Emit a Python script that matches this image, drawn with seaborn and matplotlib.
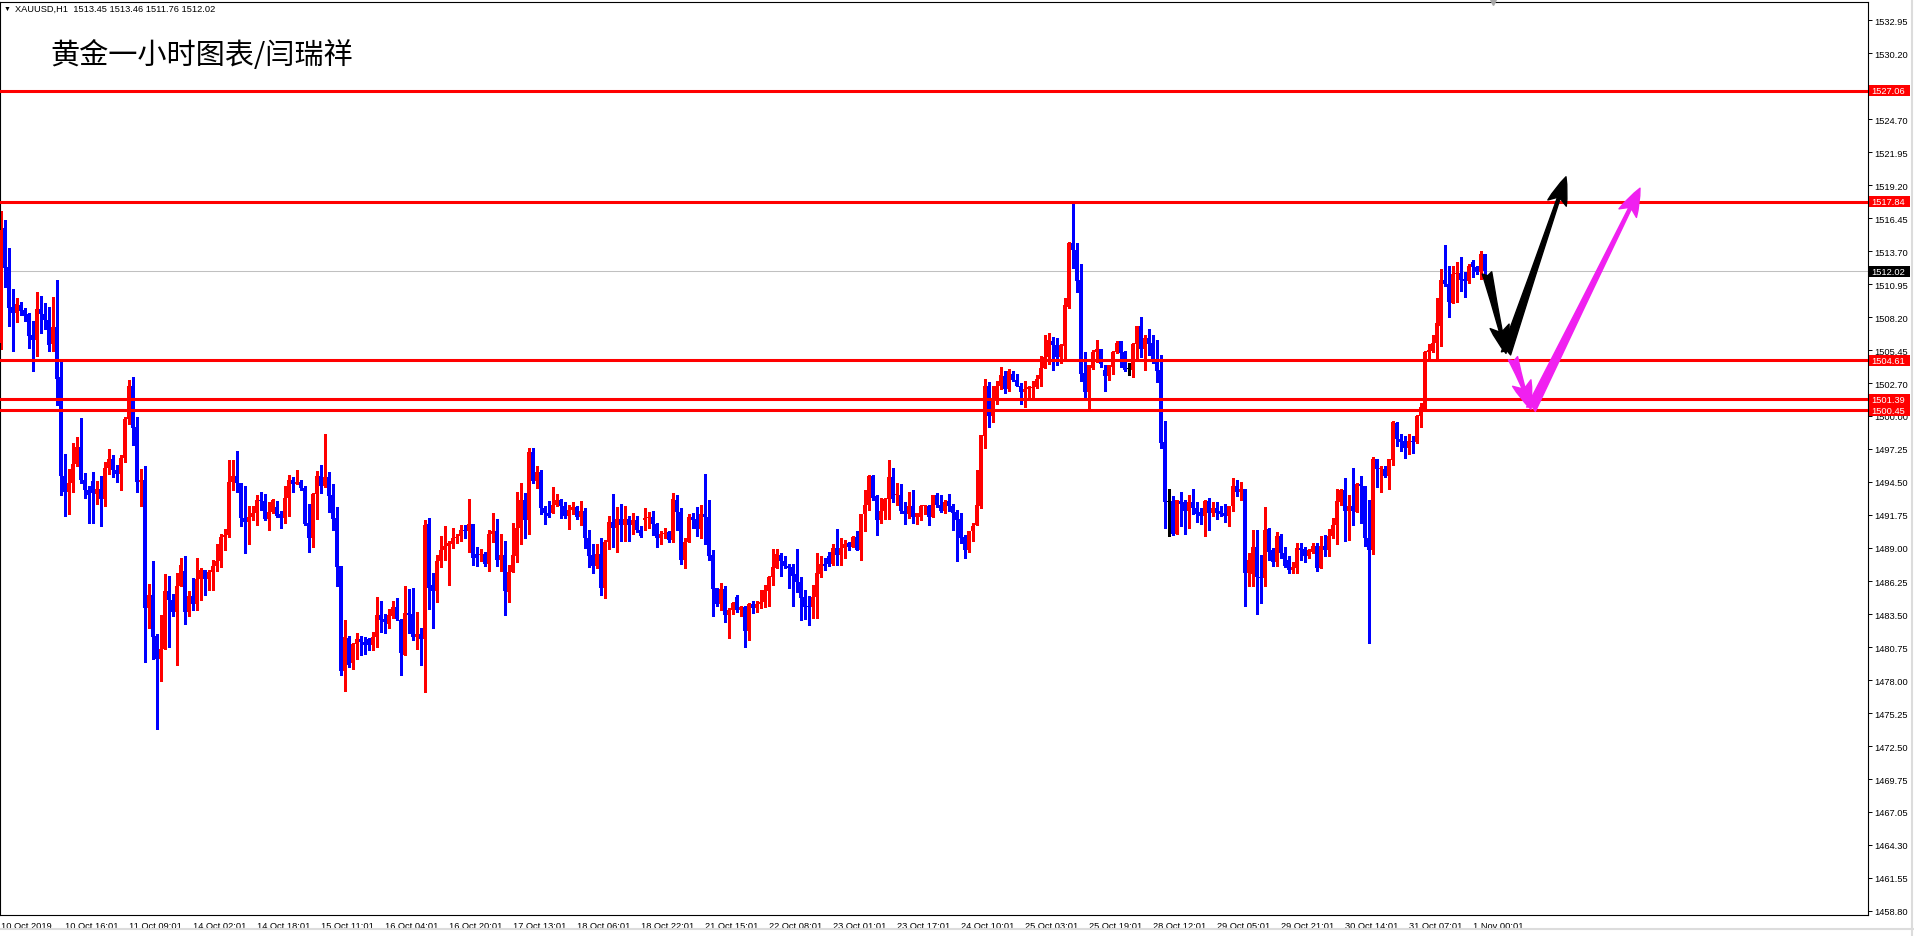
import matplotlib
matplotlib.use("Agg")
import matplotlib.pyplot as plt
import matplotlib.transforms as mtransforms
from matplotlib.patches import Rectangle
from matplotlib.lines import Line2D
import numpy as np
import pandas as pd
import seaborn as sns

# XAUUSD H1 bars, 10 Oct 2019 -> 1 Nov 2019
opens = [
    1506.1, 1515.6, 1512.4, 1509.1, 1508.6, 1509.2, 1508.8, 1508.5, 1506.7, 1506.3,
    1508.9, 1508.5, 1508.0, 1505.95, 1507.4, 1503.2, 1495.0, 1493.7, 1494.4, 1496.0,
    1497.4, 1494.7, 1493.8, 1494.6, 1493.5, 1493.9, 1493.1, 1495.7, 1496.4, 1495.5,
    1495.2, 1496.5, 1499.7, 1502.5, 1499.1, 1494.5, 1494.7, 1484.0, 1485.1, 1481.7,
    1479.8, 1480.6, 1485.4, 1484.7, 1483.7, 1485.8, 1487.1, 1483.7, 1485.0, 1484.3,
    1486.4, 1487.2, 1486.4, 1487.0, 1487.5, 1487.9, 1489.9, 1490.1, 1494.5, 1495.0,
    1494.4, 1491.5, 1491.2, 1491.6, 1491.9, 1493.0, 1492.9, 1491.4, 1492.0, 1492.4,
    1491.8, 1491.5, 1493.2, 1494.7, 1494.3, 1494.5, 1494.0, 1491.1, 1489.8, 1493.5,
    1495.0, 1494.2, 1494.9, 1493.4, 1491.5, 1487.5, 1478.8, 1481.5, 1479.4, 1481.0,
    1481.4, 1481.2, 1481.4, 1480.9, 1481.6, 1483.4, 1483.1, 1482.7, 1483.3, 1484.1,
    1483.0, 1480.1, 1483.6, 1483.5, 1481.6, 1481.8, 1481.4, 1491.0, 1485.9, 1485.4,
    1487.9, 1488.8, 1489.2, 1489.3, 1489.8, 1490.0, 1490.5, 1490.4, 1491.0, 1488.5,
    1488.4, 1488.5, 1487.7, 1490.2, 1490.4, 1488.0, 1488.4, 1485.3, 1487.0, 1488.3,
    1490.7, 1493.0, 1491.3, 1497.0, 1494.6, 1495.3, 1492.3, 1491.9, 1491.9, 1492.6,
    1493.0, 1492.5, 1491.7, 1492.2, 1492.4, 1491.6, 1492.1, 1489.8, 1488.4, 1487.5,
    1488.5, 1485.7, 1489.5, 1491.2, 1490.7, 1491.4, 1490.9, 1491.4, 1490.9, 1491.3,
    1490.5, 1491.3, 1491.5, 1491.6, 1491.0, 1489.8, 1490.15, 1490.3, 1489.7, 1493.0,
    1492.0, 1488.0, 1489.5, 1491.6, 1491.4, 1490.6, 1491.8, 1491.6, 1488.4, 1485.7,
    1484.3, 1485.6, 1483.4, 1483.8, 1484.9, 1483.8, 1484.1, 1482.1, 1484.3, 1484.0,
    1484.3, 1484.5, 1485.4, 1486.6, 1487.3, 1488.4, 1487.9, 1487.5, 1487.4, 1486.8,
    1486.2, 1484.9, 1484.2, 1484.1, 1484.9, 1486.8, 1487.7, 1488.3, 1487.7, 1489.0,
    1488.4, 1489.0, 1489.4, 1489.1, 1489.9, 1488.8, 1491.8, 1492.6, 1495.0, 1493.3,
    1491.3, 1492.1, 1493.1, 1494.9, 1493.4, 1493.4, 1492.1, 1491.8, 1492.5, 1491.6,
    1491.6, 1492.5, 1492.5, 1491.6, 1493.4, 1492.6, 1492.1, 1492.9, 1492.5, 1492.0,
    1491.4, 1489.9, 1488.8, 1490.4, 1490.9, 1492.5, 1498.3, 1502.5, 1500.0, 1501.2,
    1502.5, 1503.3, 1502.2, 1503.5, 1503.0, 1502.5, 1502.0, 1502.2, 1502.3, 1502.4,
    1503.1, 1504.0, 1504.9, 1506.2, 1505.9, 1504.9, 1505.8, 1509.1, 1514.4, 1513.8,
    1511.3, 1503.6, 1502.0, 1504.0, 1505.3, 1505.6, 1503.8, 1503.3, 1504.1, 1505.3,
    1506.2, 1505.3, 1503.9, 1503.8, 1506.0, 1507.5, 1505.6, 1506.5, 1506.1, 1504.6,
    1503.8, 1497.8, 1492.8, 1492.9, 1490.2, 1492.9, 1492.8, 1492.1, 1492.8, 1492.3,
    1492.0, 1491.7, 1492.9, 1491.9, 1492.3, 1492.1, 1491.9, 1491.7, 1492.5, 1494.2,
    1493.7, 1493.9, 1486.9, 1486.8, 1489.1, 1486.6, 1486.5, 1490.6, 1488.8, 1487.8,
    1490.0, 1488.6, 1488.0, 1487.2, 1487.3, 1489.0, 1488.9, 1488.3, 1488.7, 1489.2,
    1487.3, 1489.2, 1488.8, 1490.0, 1490.9, 1492.8, 1493.8, 1492.1, 1492.5, 1492.0,
    1494.3, 1494.2, 1489.8, 1488.8, 1496.4, 1495.6, 1495.6, 1495.0, 1496.3, 1499.4,
    1498.1, 1497.9, 1497.3, 1497.9, 1497.8, 1500.0, 1500.6, 1505.3, 1505.4, 1506.1,
    1507.5, 1511.3, 1511.0, 1509.4, 1511.8, 1511.9, 1511.4, 1511.2, 1512.8, 1512.4,
    1512.0, 1513.45,
]
highs = [
    1517.05, 1516.3, 1514.0, 1510.6, 1509.8, 1509.45, 1509.0, 1508.6, 1507.9, 1510.3,
    1509.95, 1509.4, 1509.1, 1509.9, 1511.3, 1504.6, 1496.8, 1495.6, 1497.7, 1498.2,
    1499.8, 1495.25, 1494.2, 1495.3, 1494.6, 1495.0, 1496.2, 1497.2, 1496.7, 1495.9,
    1496.7, 1499.9, 1503.0, 1503.2, 1499.9, 1495.6, 1495.8, 1486.0, 1487.9, 1481.8,
    1483.4, 1486.8, 1486.7, 1485.2, 1486.9, 1488.2, 1488.3, 1485.4, 1486.5, 1488.2,
    1487.3, 1487.2, 1487.2, 1488.0, 1489.3, 1490.2, 1490.6, 1496.3, 1496.3, 1497.1,
    1494.4, 1494.2, 1492.5, 1492.5, 1493.4, 1493.7, 1493.5, 1492.8, 1493.1, 1492.9,
    1492.1, 1494.2, 1495.1, 1494.9, 1495.5, 1494.7, 1494.2, 1492.7, 1493.6, 1495.4,
    1495.9, 1498.5, 1495.3, 1494.3, 1492.4, 1487.5, 1483.0, 1481.7, 1481.1, 1481.9,
    1481.7, 1481.6, 1481.5, 1482.0, 1484.9, 1484.6, 1483.5, 1483.9, 1484.6, 1484.8,
    1483.1, 1485.8, 1485.6, 1485.7, 1483.7, 1482.3, 1491.3, 1491.5, 1486.9, 1488.4,
    1490.0, 1490.8, 1489.6, 1490.7, 1490.2, 1490.9, 1490.9, 1493.1, 1491.0, 1489.1,
    1488.9, 1488.7, 1490.5, 1491.9, 1491.4, 1490.2, 1489.6, 1487.6, 1491.1, 1493.7,
    1494.4, 1493.6, 1497.3, 1497.3, 1495.8, 1495.5, 1492.5, 1492.9, 1494.1, 1493.5,
    1493.1, 1492.8, 1492.6, 1492.8, 1492.5, 1492.9, 1492.3, 1490.5, 1489.3, 1489.3,
    1489.8, 1489.7, 1491.7, 1493.5, 1492.4, 1492.7, 1492.5, 1491.7, 1491.9, 1491.7,
    1490.8, 1492.3, 1492.0, 1492.1, 1491.1, 1490.4, 1490.7, 1490.4, 1493.6, 1493.4,
    1492.3, 1489.8, 1491.8, 1491.9, 1492.4, 1492.6, 1495.2, 1493.0, 1488.8, 1485.7,
    1486.1, 1485.8, 1484.0, 1484.5, 1485.1, 1484.2, 1484.2, 1484.4, 1484.6, 1484.6,
    1485.5, 1485.9, 1486.7, 1488.9, 1488.9, 1488.6, 1488.3, 1487.7, 1487.7, 1488.9,
    1486.6, 1485.5, 1485.0, 1485.9, 1488.6, 1488.3, 1488.2, 1488.7, 1489.3, 1490.6,
    1489.8, 1489.7, 1489.5, 1490.0, 1490.4, 1491.85, 1493.8, 1495.05, 1495.05, 1493.4,
    1493.2, 1493.2, 1496.3, 1495.7, 1494.4, 1494.3, 1492.8, 1493.7, 1493.8, 1491.9,
    1492.6, 1492.6, 1492.6, 1493.4, 1493.6, 1493.4, 1493.0, 1493.5, 1492.7, 1492.2,
    1491.9, 1490.1, 1490.4, 1491.1, 1495.5, 1498.4, 1503.1, 1502.8, 1502.5, 1502.9,
    1504.1, 1503.7, 1503.9, 1503.7, 1503.5, 1502.7, 1502.9, 1502.5, 1502.9, 1503.4,
    1505.0, 1506.7, 1506.9, 1506.6, 1506.5, 1506.0, 1509.8, 1514.5, 1517.84, 1514.4,
    1512.6, 1505.3, 1504.2, 1505.5, 1506.3, 1505.6, 1504.2, 1504.2, 1505.4, 1506.2,
    1506.2, 1505.4, 1504.4, 1506.1, 1507.5, 1508.2, 1506.7, 1507.2, 1506.7, 1506.3,
    1505.1, 1499.6, 1493.9, 1493.3, 1493.0, 1493.7, 1493.0, 1493.4, 1493.9, 1492.8,
    1492.3, 1493.0, 1493.2, 1492.8, 1492.8, 1492.5, 1492.7, 1492.5, 1494.8, 1494.7,
    1494.5, 1493.9, 1488.6, 1490.5, 1490.5, 1488.4, 1492.4, 1490.7, 1489.0, 1490.3,
    1490.2, 1489.1, 1488.3, 1487.8, 1489.4, 1489.4, 1489.1, 1488.9, 1489.4, 1489.4,
    1490.0, 1490.1, 1490.6, 1491.5, 1493.9, 1493.9, 1494.8, 1493.4, 1495.7, 1494.4,
    1495.0, 1494.2, 1493.0, 1496.6, 1496.4, 1495.8, 1495.8, 1496.4, 1499.6, 1499.5,
    1498.5, 1498.3, 1498.5, 1498.3, 1500.1, 1501.1, 1505.4, 1506.0, 1506.7, 1509.8,
    1512.2, 1514.2, 1512.5, 1512.5, 1512.8, 1513.2, 1512.0, 1512.6, 1513.0, 1512.5,
    1513.7, 1513.46,
]
lows = [
    1505.6, 1510.7, 1507.5, 1505.4, 1507.8, 1508.4, 1507.9, 1505.65, 1503.7, 1505.0,
    1506.9, 1507.2, 1505.4, 1505.4, 1500.9, 1493.4, 1491.7, 1491.8, 1493.7, 1495.8,
    1494.4, 1493.15, 1491.1, 1491.1, 1492.7, 1490.8, 1492.5, 1495.2, 1494.9, 1494.5,
    1493.8, 1496.2, 1499.3, 1497.6, 1493.7, 1492.5, 1479.5, 1482.3, 1479.8, 1473.9,
    1477.9, 1480.6, 1480.8, 1483.3, 1479.3, 1485.8, 1482.7, 1483.3, 1483.8, 1483.8,
    1484.7, 1485.1, 1485.5, 1485.5, 1487.1, 1487.4, 1488.8, 1489.9, 1493.8, 1493.7,
    1490.8, 1488.6, 1489.3, 1491.3, 1490.9, 1492.2, 1491.35, 1490.5, 1491.9, 1491.6,
    1490.7, 1491.1, 1491.7, 1493.7, 1494.3, 1493.8, 1490.9, 1488.7, 1489.1, 1491.4,
    1493.6, 1494.1, 1492.0, 1490.5, 1485.8, 1478.4, 1477.1, 1479.1, 1478.9, 1479.8,
    1480.1, 1480.2, 1480.5, 1480.5, 1480.8, 1482.0, 1481.9, 1482.3, 1483.2, 1483.0,
    1478.4, 1480.1, 1481.9, 1481.3, 1480.6, 1479.3, 1477.0, 1483.9, 1482.3, 1484.5,
    1487.4, 1488.0, 1485.9, 1489.0, 1489.4, 1489.6, 1489.8, 1488.7, 1487.6, 1487.5,
    1487.9, 1487.5, 1487.1, 1489.5, 1487.5, 1487.1, 1483.4, 1484.5, 1487.0, 1487.8,
    1489.3, 1489.8, 1490.2, 1494.4, 1494.0, 1491.8, 1491.0, 1491.6, 1491.9, 1492.5,
    1491.5, 1491.5, 1490.6, 1491.8, 1491.4, 1490.9, 1489.0, 1487.4, 1486.9, 1487.3,
    1485.1, 1484.8, 1488.9, 1489.1, 1488.7, 1489.6, 1489.6, 1489.6, 1490.2, 1490.3,
    1489.9, 1490.5, 1490.7, 1490.1, 1489.1, 1489.3, 1489.8, 1489.5, 1489.5, 1490.5,
    1487.7, 1487.3, 1489.5, 1490.7, 1490.0, 1489.8, 1489.3, 1488.0, 1483.3, 1484.2,
    1483.8, 1482.8, 1481.5, 1483.5, 1483.7, 1483.3, 1480.8, 1481.3, 1483.6, 1483.7,
    1484.0, 1484.1, 1484.2, 1485.9, 1487.3, 1486.7, 1487.3, 1485.7, 1484.2, 1485.3,
    1483.0, 1483.1, 1482.6, 1483.2, 1483.2, 1486.6, 1487.2, 1487.5, 1487.6, 1487.6,
    1487.6, 1488.2, 1488.8, 1489.1, 1488.8, 1488.0, 1490.4, 1492.2, 1493.0, 1490.1,
    1491.1, 1491.4, 1491.4, 1492.8, 1492.6, 1491.9, 1491.0, 1491.5, 1491.1, 1491.0,
    1491.3, 1491.8, 1490.9, 1491.6, 1492.4, 1492.0, 1491.9, 1492.1, 1490.5, 1487.9,
    1489.4, 1488.2, 1488.7, 1489.6, 1490.9, 1492.3, 1497.3, 1499.1, 1499.5, 1501.0,
    1502.2, 1501.9, 1502.1, 1502.9, 1502.45, 1501.0, 1500.7, 1501.6, 1501.5, 1502.3,
    1502.5, 1504.0, 1504.3, 1503.8, 1504.2, 1504.4, 1504.8, 1509.0, 1512.3, 1510.3,
    1502.9, 1501.5, 1500.5, 1503.9, 1504.5, 1504.1, 1502.1, 1503.0, 1503.5, 1505.2,
    1504.1, 1503.7, 1503.4, 1503.2, 1504.8, 1504.9, 1503.8, 1505.1, 1504.4, 1502.8,
    1497.3, 1490.7, 1490.0, 1490.1, 1490.2, 1490.8, 1490.2, 1490.7, 1491.8, 1491.2,
    1491.0, 1490.0, 1490.5, 1491.7, 1491.4, 1491.7, 1491.2, 1490.8, 1492.1, 1493.3,
    1493.0, 1484.2, 1485.8, 1485.8, 1483.5, 1484.4, 1485.8, 1488.0, 1487.5, 1487.5,
    1488.2, 1487.4, 1486.9, 1486.9, 1486.9, 1488.0, 1487.8, 1488.2, 1488.6, 1487.1,
    1487.3, 1488.3, 1488.3, 1489.8, 1489.3, 1492.6, 1489.6, 1489.7, 1490.9, 1492.0,
    1491.1, 1489.2, 1481.1, 1488.5, 1494.1, 1493.7, 1494.9, 1493.9, 1495.9, 1497.5,
    1497.1, 1496.5, 1496.8, 1496.9, 1497.7, 1499.1, 1500.5, 1504.7, 1505.3, 1504.7,
    1505.8, 1510.8, 1508.2, 1509.4, 1509.5, 1510.4, 1509.9, 1511.1, 1511.6, 1511.8,
    1511.4, 1511.76,
]
closes = [
    1515.5, 1512.3, 1509.0, 1508.6, 1509.3, 1508.75, 1508.3, 1506.65, 1506.3, 1508.9,
    1508.5, 1508.0, 1505.9, 1507.4, 1503.1, 1495.0, 1493.7, 1494.4, 1496.0, 1497.4,
    1494.7, 1493.8, 1493.4, 1493.6, 1493.9, 1493.1, 1495.7, 1496.4, 1495.5, 1495.2,
    1496.5, 1499.7, 1502.5, 1499.0, 1494.5, 1494.7, 1484.0, 1485.1, 1481.6, 1479.8,
    1480.6, 1485.4, 1484.7, 1483.7, 1485.8, 1487.6, 1483.7, 1485.0, 1484.3, 1486.4,
    1487.2, 1486.4, 1487.0, 1487.5, 1487.9, 1489.9, 1490.1, 1494.5, 1495.0, 1494.4,
    1491.5, 1491.2, 1491.6, 1491.9, 1493.0, 1492.9, 1491.4, 1492.0, 1493.0, 1491.7,
    1491.5, 1493.2, 1494.7, 1494.3, 1494.5, 1494.0, 1491.0, 1489.8, 1493.5, 1495.0,
    1494.2, 1494.9, 1493.3, 1491.4, 1487.4, 1478.8, 1481.6, 1479.3, 1481.0, 1481.4,
    1481.2, 1480.9, 1480.9, 1481.6, 1483.4, 1483.0, 1482.8, 1483.4, 1484.1, 1483.05,
    1480.3, 1483.6, 1483.4, 1481.6, 1481.8, 1481.4, 1490.95, 1485.7, 1485.4, 1487.9,
    1488.8, 1489.2, 1489.4, 1489.8, 1489.9, 1490.5, 1490.4, 1491.0, 1488.2, 1488.2,
    1488.5, 1487.7, 1490.2, 1490.4, 1488.0, 1488.4, 1485.4, 1487.0, 1488.4, 1490.7,
    1493.0, 1491.3, 1497.0, 1494.6, 1495.3, 1492.3, 1491.9, 1491.7, 1492.6, 1493.0,
    1492.5, 1491.7, 1492.2, 1492.4, 1491.6, 1492.1, 1489.8, 1488.3, 1487.5, 1488.5,
    1485.7, 1489.5, 1491.2, 1490.7, 1491.4, 1490.9, 1491.4, 1490.9, 1491.3, 1490.5,
    1490.0, 1491.5, 1491.6, 1491.0, 1489.8, 1490.2, 1490.2, 1489.7, 1493.1, 1492.0,
    1488.0, 1489.5, 1491.6, 1491.3, 1490.6, 1491.8, 1491.6, 1488.3, 1485.6, 1484.3,
    1485.6, 1483.4, 1483.8, 1484.4, 1483.8, 1484.1, 1482.1, 1484.3, 1484.0, 1484.3,
    1484.5, 1485.5, 1486.6, 1487.4, 1488.5, 1487.9, 1487.5, 1487.3, 1486.7, 1486.2,
    1484.8, 1484.1, 1484.1, 1484.9, 1486.9, 1487.7, 1487.5, 1487.7, 1489.0, 1488.4,
    1489.0, 1489.3, 1489.1, 1489.9, 1488.85, 1491.8, 1492.6, 1495.0, 1493.2, 1491.3,
    1492.1, 1493.1, 1494.9, 1493.1, 1493.5, 1492.1, 1491.8, 1492.5, 1491.6, 1491.9,
    1492.5, 1492.55, 1491.6, 1493.4, 1492.6, 1492.1, 1492.8, 1492.5, 1491.9, 1491.3,
    1489.8, 1488.8, 1490.4, 1490.8, 1492.6, 1498.4, 1502.5, 1500.0, 1501.2, 1502.5,
    1503.4, 1502.2, 1503.7, 1503.0, 1502.5, 1502.0, 1502.2, 1502.4, 1502.4, 1503.1,
    1504.0, 1504.9, 1506.3, 1505.9, 1504.9, 1505.9, 1509.2, 1514.4, 1513.8, 1511.2,
    1503.5, 1502.0, 1504.2, 1505.3, 1505.6, 1504.3, 1503.3, 1504.2, 1505.3, 1506.1,
    1505.2, 1503.8, 1503.9, 1506.0, 1507.5, 1505.6, 1506.5, 1506.0, 1504.5, 1503.7,
    1497.7, 1492.8, 1492.8, 1490.2, 1493.0, 1492.7, 1492.1, 1492.8, 1492.3, 1491.8,
    1491.7, 1492.9, 1491.9, 1492.3, 1491.9, 1491.8, 1491.7, 1492.5, 1494.2, 1493.7,
    1493.9, 1486.9, 1488.0, 1489.1, 1486.6, 1486.5, 1490.5, 1488.7, 1487.8, 1490.0,
    1488.6, 1487.5, 1487.2, 1487.4, 1489.0, 1488.8, 1488.3, 1488.8, 1489.2, 1487.3,
    1489.2, 1488.8, 1490.0, 1490.9, 1492.9, 1493.8, 1492.1, 1492.5, 1492.1, 1494.3,
    1494.2, 1489.8, 1488.8, 1496.4, 1495.6, 1495.7, 1495.0, 1496.4, 1499.5, 1498.1,
    1497.8, 1497.3, 1497.9, 1497.8, 1500.0, 1500.7, 1505.3, 1505.5, 1506.1, 1507.7,
    1511.3, 1510.95, 1509.5, 1511.8, 1511.9, 1511.3, 1511.2, 1512.5, 1512.4, 1512.0,
    1513.5, 1512.02,
]

# time axis labels (one every 16 bars)
date_labels = [
    "10 Oct 2019", "10 Oct 16:01", "11 Oct 09:01", "14 Oct 02:01", "14 Oct 18:01",
    "15 Oct 11:01", "16 Oct 04:01", "16 Oct 20:01", "17 Oct 13:01", "18 Oct 06:01",
    "18 Oct 22:01", "21 Oct 15:01", "22 Oct 08:01", "23 Oct 01:01", "23 Oct 17:01",
    "24 Oct 10:01", "25 Oct 03:01", "25 Oct 19:01", "28 Oct 12:01", "29 Oct 05:01",
    "29 Oct 21:01", "30 Oct 14:01", "31 Oct 07:01", "1 Nov 00:01",
]
price_labels = [
    "1532.95", "1530.20", "1527.45", "1524.70", "1521.95", "1519.20", "1516.45",
    "1513.70", "1510.95", "1508.20", "1505.45", "1502.70", "1500.00", "1497.25",
    "1494.50", "1491.75", "1489.00", "1486.25", "1483.50", "1480.75", "1478.00",
    "1475.25", "1472.50", "1469.75", "1467.05", "1464.30", "1461.55", "1458.80",
]
# horizontal support / resistance levels
levels = [1527.06, 1517.84, 1504.61, 1501.39, 1500.45]
bid = 1512.02

# hand-drawn arrows: (start bar, start price) -> (tip bar, tip price)
black_arrows = [((371.5, 1511.9), (376.25, 1505.2)), ((376.25, 1505.2), (391.25, 1519.9))]
magenta_arrows = [((378.0, 1504.8), (382.5, 1500.55)), ((382.5, 1500.55), (409.75, 1518.95))]

sns.set_style("white")
plt.rcParams['font.family'] = ['Liberation Sans', 'DejaVu Sans']

df = pd.DataFrame({"open": opens, "high": highs, "low": lows, "close": closes})
df["bar"] = np.arange(len(df))
df["color"] = np.where(df.close > df.open, "#ff0000",
                       np.where(df.close < df.open, "#0000ff", "#000000"))
df["body_lo"] = df[["open", "close"]].min(axis=1)
df["body_h"] = (df.close - df.open).abs().clip(lower=0.09)

W, H = 1915, 937
fig = plt.figure(figsize=(W / 100, H / 100), dpi=100)
ax = fig.add_axes([0, (H - 916) / H, 1868 / W, 913 / H])
ax.set_facecolor("white")

ax.vlines(df.bar, df.low, df.high, colors=df.color, linewidth=0.75, antialiased=False, zorder=2)
ax.bar(df.bar, df.body_h, bottom=df.body_lo, width=0.75, color=df.color,
       linewidth=0, antialiased=False, zorder=3)

ax.axhline(bid, color="#c0c0c0", lw=0.75, zorder=1)
for lv in levels:
    ax.axhline(lv, color="#ff0000", lw=2.2, zorder=4)

for (x0, y0), (x1, y1) in black_arrows:
    ax.annotate("", xy=(x1, y1), xytext=(x0, y0), zorder=6,
                arrowprops=dict(arrowstyle="fancy,head_length=1.0,head_width=0.7,tail_width=0.35",
                                mutation_scale=20, color="black", shrinkA=0, shrinkB=0))
for (x0, y0), (x1, y1) in magenta_arrows:
    ax.annotate("", xy=(x1, y1), xytext=(x0, y0), zorder=6,
                arrowprops=dict(arrowstyle="fancy,head_length=1.0,head_width=0.7,tail_width=0.35",
                                mutation_scale=20, color="#f020f0", shrinkA=0, shrinkB=0))

ax.set_xlim(-0.25, 466.75)
ax.set_ylim(1458.45, 1534.45)

for s in ax.spines.values():
    s.set_color("black")
    s.set_linewidth(0.8)

ax.yaxis.tick_right()
ax.set_yticks([float(p) for p in price_labels])
ax.set_yticklabels(price_labels)
ax.set_xticks(np.arange(len(date_labels)) * 16)
ax.set_xticklabels(date_labels, ha="left")
ax.tick_params(axis="both", direction="out", length=3, width=0.7, color="black",
               labelsize=6.7, labelcolor="black")
ax.tick_params(axis="y", pad=1.5)
ax.tick_params(axis="x", pad=1.5)

# price tags on the right scale
tag = mtransforms.blended_transform_factory(fig.transFigure, ax.transData)
for val, fc in [(v, "#ff0000") for v in levels] + [(bid, "#000000")]:
    ax.add_patch(Rectangle((1869 / W, val - 0.45), 41 / W, 0.9, transform=tag,
                           facecolor=fc, edgecolor="none", clip_on=False, zorder=8))
    ax.text(1871 / W, val, f"{val:.2f}", transform=tag, color="white", fontsize=6.7,
            va="center", ha="left", clip_on=False, zorder=9)

# chart shift marker
ax.plot([373], [1.0], marker="v", ms=5, color="#a8a8a8", transform=ax.get_xaxis_transform(),
        clip_on=False, zorder=7)

# header and title
fig.text(4 / W, 1 - 9 / H, "\u25bc", fontsize=5, va="center", color="black")
fig.text(15 / W, 1 - 9 / H,
         f"XAUUSD,H1  {opens[-1]:.2f} {highs[-1]:.2f} {lows[-1]:.2f} {closes[-1]:.2f}",
         fontsize=6.7, va="center", color="black")
fig.text(50 / W, 1 - 56 / H, "黄金一小时图表/闫瑞祥", fontsize=21, va="center",
         color="black", family=["Noto Sans CJK SC", "DejaVu Sans"], fontweight="light")

# window border
fig.add_artist(Line2D([1912 / W, 1912 / W], [0, 1], color="#dcdcdc", lw=1.5))
fig.add_artist(Line2D([0, 1], [7 / H, 7 / H], color="#dcdcdc", lw=1.5))

fig.savefig("out.png", dpi=100, facecolor="white")
